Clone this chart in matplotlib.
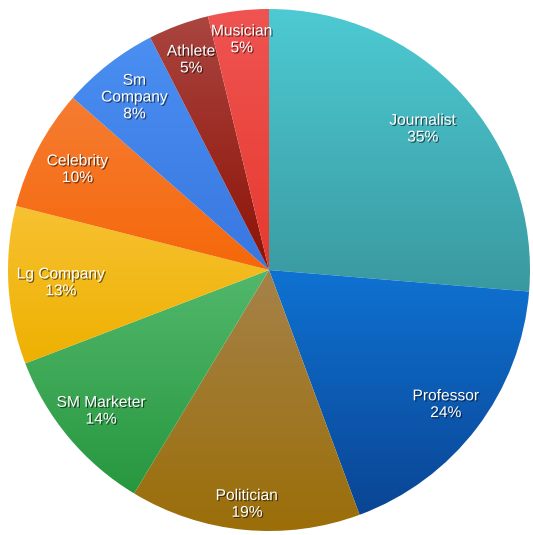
import matplotlib
matplotlib.use("Agg")
import matplotlib.pyplot as plt
import matplotlib.patheffects as pe
from matplotlib.colors import to_rgb
import numpy as np

# data (values as printed; slices sized by value)
labels = ["Journalist", "Professor", "Politician", "SM Marketer", "Lg Company",
          "Celebrity", "Sm Company", "Athlete", "Musician"]
label_text = ["Journalist", "Professor", "Politician", "SM Marketer", "Lg Company",
              "Celebrity", "Sm\nCompany", "Athlete", "Musician"]
values = [35, 24, 19, 14, 13, 10, 8, 5, 5]

# gradient colours (top, bottom) for each slice
top_colors = ["#4dcad3", "#0f72d2", "#a5824a", "#52b86c", "#f7c232",
              "#f67c32", "#4b8ff2", "#aa4540", "#ef5452"]
bottom_colors = ["#3a99a0", "#0a4594", "#9b6e08", "#27973f", "#eeb000",
                 "#f5680a", "#3877e0", "#8c1206", "#e63a2e"]

# how far out each label sits (fraction of radius)
label_r = [0.80, 0.85, 0.90, 0.84, 0.80, 0.83, 0.84, 0.86, 0.89]

fig = plt.figure(figsize=(5.33, 5.35), dpi=100)
ax = fig.add_axes([8/533, 4/535, 522/533, 522/535])

wedges, _ = ax.pie(values, startangle=90, counterclock=False, radius=1,
                   wedgeprops=dict(linewidth=0))

for i, w in enumerate(wedges):
	verts = w.get_path().vertices
	x0, x1 = verts[:, 0].min(), verts[:, 0].max()
	y0, y1 = verts[:, 1].min(), verts[:, 1].max()
	c_top = np.array(to_rgb(top_colors[i]))
	c_bot = np.array(to_rgb(bottom_colors[i]))
	t = np.linspace(0, 1, 200)[:, None]
	grad = (c_top * (1 - t) + c_bot * t)[:, None, :]
	im = ax.imshow(grad, extent=[x0, x1, y0, y1], origin="upper",
	               aspect="auto", interpolation="bilinear", zorder=2)
	im.set_clip_path(w)
	w.set_facecolor("none")

	# label at the middle angle of the slice
	ang = np.deg2rad((w.theta1 + w.theta2) / 2)
	r = label_r[i]
	ax.text(r*np.cos(ang), r*np.sin(ang), label_text[i] + "\n" + str(values[i]) + "%",
	        ha="center", va="center", color="white", fontsize=11.2,
	        family="Liberation Sans", linespacing=1.15, zorder=5,
	        path_effects=[pe.withSimplePatchShadow(offset=(0.9, -0.9),
	                                               shadow_rgbFace="black", alpha=0.55)])

ax.set_xlim(-1, 1)
ax.set_ylim(-1, 1)
ax.set_aspect("equal")
ax.axis("off")

fig.savefig("out.png", dpi=100, facecolor="white")
